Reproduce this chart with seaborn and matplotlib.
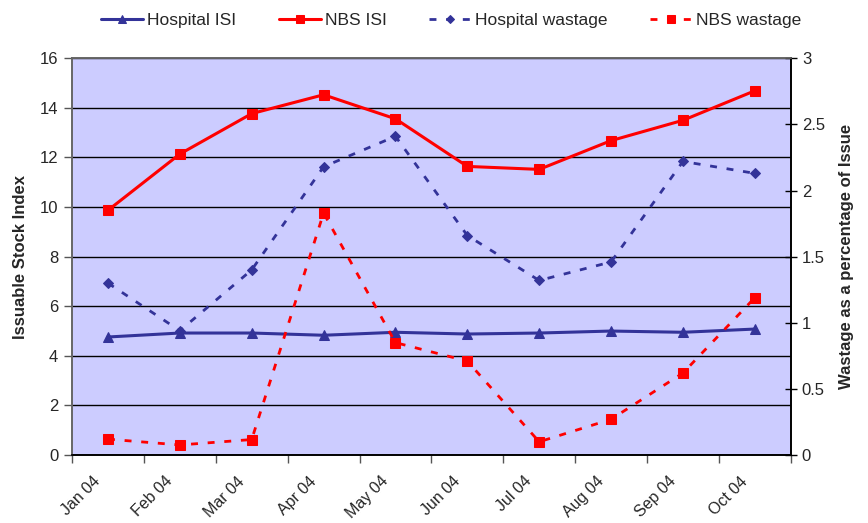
import matplotlib
matplotlib.use("Agg")
import matplotlib.pyplot as plt
import matplotlib.transforms as mtransforms
import seaborn as sns
import numpy as np

# data
months = ["Jan 04", "Feb 04", "Mar 04", "Apr 04", "May 04",
          "Jun 04", "Jul 04", "Aug 04", "Sep 04", "Oct 04"]
hospital_isi = [4.76, 4.92, 4.92, 4.83, 4.95, 4.88, 4.92, 5.00, 4.95, 5.08]
nbs_isi = [9.87, 12.14, 13.77, 14.53, 13.56, 11.64, 11.52, 12.68, 13.50, 14.69]
hospital_wastage = [1.30, 0.94, 1.40, 2.18, 2.41, 1.66, 1.32, 1.46, 2.22, 2.13]
nbs_wastage = [0.12, 0.076, 0.117, 1.83, 0.85, 0.71, 0.10, 0.27, 0.62, 1.19]

navy = "#333399"
red = "#FF0000"

sns.set_theme(style="white")
plt.rcParams["font.family"] = ["Liberation Sans", "DejaVu Sans"]

fig = plt.figure(figsize=(8.68, 5.23), dpi=100)
ax = fig.add_axes([0.083, 0.130, 0.828, 0.7585])
ax.set_facecolor("#CCCCFF")
ax2 = ax.twinx()

sns.lineplot(x=months, y=hospital_isi, ax=ax, color=navy, marker="^",
             markersize=7.5, markeredgecolor=navy, linewidth=2.2,
             label="Hospital ISI", legend=False)
sns.lineplot(x=months, y=nbs_isi, ax=ax, color=red, marker="s",
             markersize=7, markeredgecolor=red, linewidth=2.2,
             label="NBS ISI", legend=False)
sns.lineplot(x=months, y=hospital_wastage, ax=ax2, color=navy, marker="D",
             markersize=5.5, markeredgecolor=navy, linewidth=2,
             linestyle=(0, (2.5, 3.5)), label="Hospital wastage", legend=False)
sns.lineplot(x=months, y=nbs_wastage, ax=ax2, color=red, marker="s",
             markersize=7, markeredgecolor=red, linewidth=2,
             linestyle=(0, (2.5, 3.5)), label="NBS wastage", legend=False)

ax.set_xlim(-0.5, len(months) - 0.5)
ax.set_ylim(0, 16)
ax.set_yticks(np.arange(0, 17, 2))
ax2.set_ylim(0, 3)
ax2.set_yticks(np.arange(0, 3.01, 0.5))
ax2.set_yticklabels(["0", "0.5", "1", "1.5", "2", "2.5", "3"])

# gridlines from left axis
ax.yaxis.grid(True, color="black", linewidth=1)
ax.set_axisbelow(True)

# category boundaries as ticks, labels at centres
ax.set_xticks(np.arange(-0.5, len(months), 1.0), minor=True)
ax.set_xticks(range(len(months)))
ax.set_xticklabels(months, rotation=45, ha="right", va="top",
                   rotation_mode="anchor", fontsize=11.5)
ax.tick_params(axis="x", which="major", length=0, pad=12)
ax.tick_params(axis="x", which="minor", length=6, width=1, color="#555555",
               direction="out", bottom=True)
offset = mtransforms.ScaledTranslation(-0.15, -0.02, fig.dpi_scale_trans)
for lbl in ax.get_xticklabels():
    lbl.set_transform(lbl.get_transform() + offset)

ax.tick_params(axis="y", length=6, width=1, direction="out", left=True,
               labelsize=12, color="#555555", pad=4)
ax2.tick_params(axis="y", length=8, width=1, direction="inout", right=True,
                labelsize=12, color="black", pad=4)

for a in (ax, ax2):
    a.spines["top"].set_color("#666666")
    a.spines["left"].set_color("#666666")
    a.spines["bottom"].set_color("black")
    a.spines["right"].set_color("black")
    for s in a.spines.values():
        s.set_linewidth(1.2)

ax.set_xlabel("")
ax.set_ylabel("Issuable Stock Index", fontsize=12, fontweight="bold", labelpad=8)
ax2.set_ylabel("Wastage as a percentage of Issue", fontsize=12,
               fontweight="bold", labelpad=10)

h1, l1 = ax.get_legend_handles_labels()
h2, l2 = ax2.get_legend_handles_labels()
fig.legend(h1 + h2, l1 + l2, loc="upper center", bbox_to_anchor=(0.52, 1.005),
           ncol=4, frameon=False, fontsize=12.5, handlelength=2.4,
           columnspacing=2.45, handletextpad=0.25, markerscale=0.8)

fig.savefig("out.png", dpi=100)
